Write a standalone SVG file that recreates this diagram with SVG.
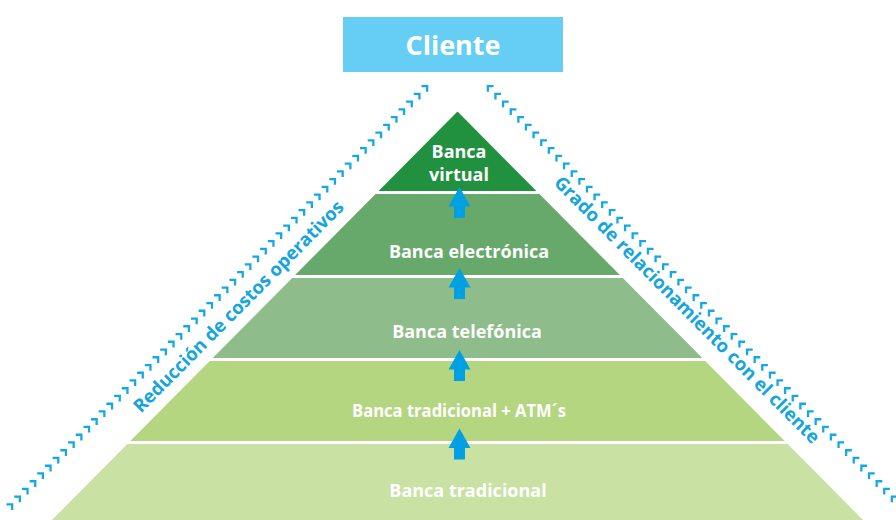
<svg xmlns="http://www.w3.org/2000/svg" xmlns:xlink="http://www.w3.org/1999/xlink" width="896" height="520" viewBox="0 0 896 520">
  <style>
    .lbl { font-family: "Open Sans", "Noto Sans", "Liberation Sans", sans-serif; font-weight: 700; font-size: 18px; fill: #ffffff; text-anchor: middle; }
    .side { font-family: "Open Sans", "Noto Sans", "Liberation Sans", sans-serif; font-weight: 700; font-size: 18.5px; fill: #14a5e0; text-anchor: middle; }
    .title { font-family: "Open Sans", "Noto Sans", "Liberation Sans", sans-serif; font-weight: 700; font-size: 27px; fill: #ffffff; text-anchor: middle; }
    .chev { fill: #14a8e4; }
    .up { fill: #00a0e2; }
  </style>
  <defs>
    <!-- corner marks: left side points up-right, right side points up-left -->
    <path id="chevL" class="chev" d="M-6.8,0H0V6.8H-2.3V2.3H-6.8Z"/>
    <path id="chevR" class="chev" d="M6.8,0H0V6.8H2.3V2.3H6.8Z"/>
    <!-- upward block arrow, tip at origin -->
    <path id="arrowUp" class="up" d="M0,0L11,19.5H5.5V31H-5.5V19.5H-11Z"/>
  </defs>

  <rect width="896" height="520" fill="#ffffff"/>

  <!-- client box -->
  <g id="cliente">
    <rect x="343" y="17" width="220" height="55" fill="#66cdf4"/>
    <text class="title" x="453" y="54.5">Cliente</text>
  </g>

  <!-- pyramid tiers, bottom to top -->
  <g id="banca-tradicional">
    <polygon points="127.3,444 787.7,444 863.1,520 51.9,520" fill="#c9e2a4"/>
    <text class="lbl" x="468" y="497">Banca tradicional</text>
  </g>
  <g id="banca-tradicional-atm">
    <polygon points="209.7,361 705.3,361 784.7,441 130.3,441" fill="#b5d681"/>
    <text class="lbl" x="459" y="417" textLength="214" lengthAdjust="spacingAndGlyphs">Banca tradicional + ATM´s</text>
  </g>
  <g id="banca-telefonica">
    <polygon points="292.2,278 622.8,278 702.3,358 212.7,358" fill="#8fbc8b"/>
    <text class="lbl" x="467" y="337.5">Banca telefónica</text>
  </g>
  <g id="banca-electronica">
    <polygon points="375.6,194 539.4,194 619.9,275 295.1,275" fill="#67a96b"/>
    <text class="lbl" x="469" y="257.5">Banca electrónica</text>
  </g>
  <g id="banca-virtual">
    <polygon points="457.5,111.5 536.4,191 378.6,191" fill="#21903f"/>
    <text class="lbl" x="459" y="157.5">Banca</text>
    <text class="lbl" x="459" y="180.5">virtual</text>
  </g>

  <!-- connectors: upward arrows between tiers -->
  <g id="connectors">
    <use xlink:href="#arrowUp" x="459.5" y="187"/>
    <use xlink:href="#arrowUp" x="459.5" y="268"/>
    <use xlink:href="#arrowUp" x="459.5" y="350"/>
    <use xlink:href="#arrowUp" x="459.5" y="428.5"/>
  </g>

  <!-- left dotted track: cost reduction -->
  <g id="track-left">
    <use xlink:href="#chevL" x="428.3" y="85.0"/>
    <use xlink:href="#chevL" x="420.6" y="92.7"/>
    <use xlink:href="#chevL" x="412.9" y="100.5"/>
    <use xlink:href="#chevL" x="405.2" y="108.2"/>
    <use xlink:href="#chevL" x="397.6" y="116.0"/>
    <use xlink:href="#chevL" x="389.9" y="123.7"/>
    <use xlink:href="#chevL" x="382.2" y="131.5"/>
    <use xlink:href="#chevL" x="374.5" y="139.2"/>
    <use xlink:href="#chevL" x="366.8" y="147.0"/>
    <use xlink:href="#chevL" x="359.1" y="154.7"/>
    <use xlink:href="#chevL" x="351.5" y="162.5"/>
    <use xlink:href="#chevL" x="343.8" y="170.2"/>
    <use xlink:href="#chevL" x="336.1" y="178.0"/>
    <use xlink:href="#chevL" x="328.4" y="185.7"/>
    <use xlink:href="#chevL" x="320.7" y="193.4"/>
    <use xlink:href="#chevL" x="313.0" y="201.2"/>
    <use xlink:href="#chevL" x="305.3" y="208.9"/>
    <use xlink:href="#chevL" x="297.7" y="216.7"/>
    <use xlink:href="#chevL" x="290.0" y="224.4"/>
    <use xlink:href="#chevL" x="282.3" y="232.2"/>
    <use xlink:href="#chevL" x="274.6" y="239.9"/>
    <use xlink:href="#chevL" x="266.9" y="247.7"/>
    <use xlink:href="#chevL" x="259.2" y="255.4"/>
    <use xlink:href="#chevL" x="251.5" y="263.2"/>
    <use xlink:href="#chevL" x="243.9" y="270.9"/>
    <use xlink:href="#chevL" x="236.2" y="278.7"/>
    <use xlink:href="#chevL" x="228.5" y="286.4"/>
    <use xlink:href="#chevL" x="220.8" y="294.1"/>
    <use xlink:href="#chevL" x="213.1" y="301.9"/>
    <use xlink:href="#chevL" x="205.4" y="309.6"/>
    <use xlink:href="#chevL" x="197.8" y="317.4"/>
    <use xlink:href="#chevL" x="190.1" y="325.1"/>
    <use xlink:href="#chevL" x="182.4" y="332.9"/>
    <use xlink:href="#chevL" x="174.7" y="340.6"/>
    <use xlink:href="#chevL" x="167.0" y="348.4"/>
    <use xlink:href="#chevL" x="159.3" y="356.1"/>
    <use xlink:href="#chevL" x="151.6" y="363.9"/>
    <use xlink:href="#chevL" x="143.9" y="371.6"/>
    <use xlink:href="#chevL" x="136.3" y="379.3"/>
    <use xlink:href="#chevL" x="128.6" y="387.1"/>
    <use xlink:href="#chevL" x="120.9" y="394.8"/>
    <use xlink:href="#chevL" x="113.2" y="402.6"/>
    <use xlink:href="#chevL" x="105.5" y="410.3"/>
    <use xlink:href="#chevL" x="97.8" y="418.1"/>
    <use xlink:href="#chevL" x="90.2" y="425.8"/>
    <use xlink:href="#chevL" x="82.5" y="433.6"/>
    <use xlink:href="#chevL" x="74.8" y="441.3"/>
    <use xlink:href="#chevL" x="67.1" y="449.1"/>
    <use xlink:href="#chevL" x="59.4" y="456.8"/>
    <use xlink:href="#chevL" x="51.7" y="464.6"/>
    <use xlink:href="#chevL" x="44.0" y="472.3"/>
    <use xlink:href="#chevL" x="36.4" y="480.1"/>
    <use xlink:href="#chevL" x="28.7" y="487.8"/>
    <use xlink:href="#chevL" x="21.0" y="495.5"/>
    <use xlink:href="#chevL" x="13.3" y="503.3"/>
    <text class="side" transform="translate(243 311) rotate(-45.2)">Reducción de costos operativos</text>
  </g>

  <!-- right dotted track: customer relationship -->
  <g id="track-right">
    <use xlink:href="#chevR" x="486.7" y="85.0"/>
    <use xlink:href="#chevR" x="494.3" y="92.7"/>
    <use xlink:href="#chevR" x="501.9" y="100.5"/>
    <use xlink:href="#chevR" x="509.6" y="108.2"/>
    <use xlink:href="#chevR" x="517.2" y="116.0"/>
    <use xlink:href="#chevR" x="524.8" y="123.7"/>
    <use xlink:href="#chevR" x="532.4" y="131.5"/>
    <use xlink:href="#chevR" x="540.1" y="139.2"/>
    <use xlink:href="#chevR" x="547.7" y="147.0"/>
    <use xlink:href="#chevR" x="555.3" y="154.7"/>
    <use xlink:href="#chevR" x="562.9" y="162.5"/>
    <use xlink:href="#chevR" x="570.6" y="170.2"/>
    <use xlink:href="#chevR" x="578.2" y="178.0"/>
    <use xlink:href="#chevR" x="585.8" y="185.7"/>
    <use xlink:href="#chevR" x="593.4" y="193.4"/>
    <use xlink:href="#chevR" x="601.0" y="201.2"/>
    <use xlink:href="#chevR" x="608.7" y="208.9"/>
    <use xlink:href="#chevR" x="616.3" y="216.7"/>
    <use xlink:href="#chevR" x="623.9" y="224.4"/>
    <use xlink:href="#chevR" x="631.5" y="232.2"/>
    <use xlink:href="#chevR" x="639.2" y="239.9"/>
    <use xlink:href="#chevR" x="646.8" y="247.7"/>
    <use xlink:href="#chevR" x="654.4" y="255.4"/>
    <use xlink:href="#chevR" x="662.0" y="263.2"/>
    <use xlink:href="#chevR" x="669.7" y="270.9"/>
    <use xlink:href="#chevR" x="677.3" y="278.7"/>
    <use xlink:href="#chevR" x="684.9" y="286.4"/>
    <use xlink:href="#chevR" x="692.5" y="294.1"/>
    <use xlink:href="#chevR" x="700.1" y="301.9"/>
    <use xlink:href="#chevR" x="707.8" y="309.6"/>
    <use xlink:href="#chevR" x="715.4" y="317.4"/>
    <use xlink:href="#chevR" x="723.0" y="325.1"/>
    <use xlink:href="#chevR" x="730.6" y="332.9"/>
    <use xlink:href="#chevR" x="738.3" y="340.6"/>
    <use xlink:href="#chevR" x="745.9" y="348.4"/>
    <use xlink:href="#chevR" x="753.5" y="356.1"/>
    <use xlink:href="#chevR" x="761.1" y="363.9"/>
    <use xlink:href="#chevR" x="768.8" y="371.6"/>
    <use xlink:href="#chevR" x="776.4" y="379.3"/>
    <use xlink:href="#chevR" x="784.0" y="387.1"/>
    <use xlink:href="#chevR" x="791.6" y="394.8"/>
    <use xlink:href="#chevR" x="799.2" y="402.6"/>
    <use xlink:href="#chevR" x="806.9" y="410.3"/>
    <use xlink:href="#chevR" x="814.5" y="418.1"/>
    <use xlink:href="#chevR" x="822.1" y="425.8"/>
    <use xlink:href="#chevR" x="829.7" y="433.6"/>
    <use xlink:href="#chevR" x="837.4" y="441.3"/>
    <use xlink:href="#chevR" x="845.0" y="449.1"/>
    <use xlink:href="#chevR" x="852.6" y="456.8"/>
    <use xlink:href="#chevR" x="860.2" y="464.6"/>
    <use xlink:href="#chevR" x="867.9" y="472.3"/>
    <use xlink:href="#chevR" x="875.5" y="480.1"/>
    <use xlink:href="#chevR" x="883.1" y="487.8"/>
    <use xlink:href="#chevR" x="890.7" y="495.5"/>
    <text class="side" transform="translate(682.5 314.3) rotate(45.2)">Grado de relacionamiento con el cliente</text>
  </g>
</svg>
